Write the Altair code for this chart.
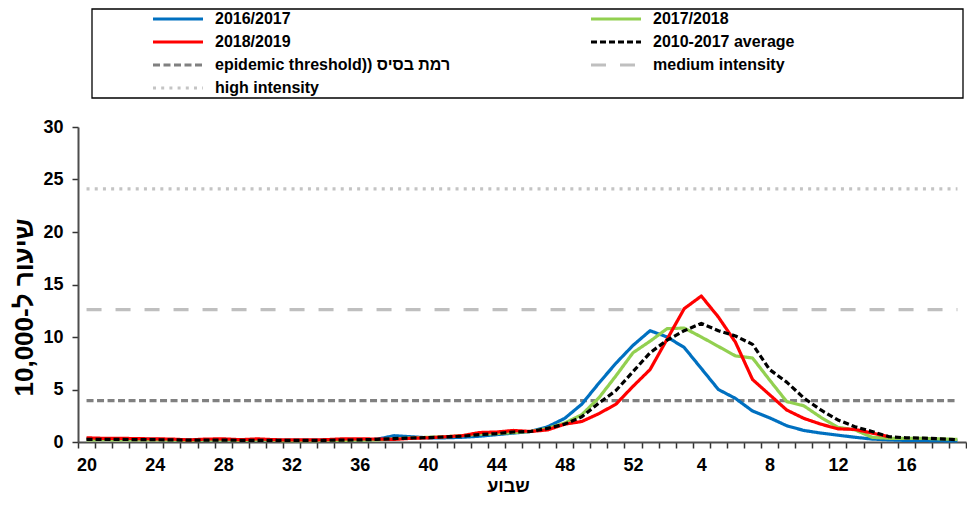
import altair as alt
import pandas as pd

# ---------------- data ----------------
weeks = list(range(20, 53)) + list(range(1, 20))
x_tick_labels = ["20", "24", "28", "32", "36", "40", "44", "48", "52", "4", "8", "12", "16"]

s_2016_2017 = [0.30, 0.30, 0.28, 0.25, 0.25, 0.22, 0.18, 0.20, 0.20, 0.15, 0.18, 0.15, 0.15,
               0.15, 0.15, 0.18, 0.20, 0.25, 0.60, 0.50, 0.40, 0.40, 0.45, 0.55, 0.70, 0.85,
               1.00, 1.45, 2.25, 3.60, 5.60, 7.50, 9.20,
               10.60, 10.00, 9.00, 7.00, 5.00, 4.15, 2.95, 2.30, 1.55, 1.10, 0.85, 0.65,
               0.45, 0.28, 0.20, 0.15, 0.15, 0.12, 0.10]
s_2017_2018 = [0.20, 0.22, 0.20, 0.20, 0.20, 0.18, 0.15, 0.18, 0.18, 0.15, 0.18, 0.15, 0.12,
               0.12, 0.15, 0.15, 0.18, 0.20, 0.30, 0.38, 0.45, 0.50, 0.60, 0.75, 0.80, 0.90,
               1.00, 1.30, 1.80, 2.60, 4.20, 6.30, 8.50,
               9.60, 10.80, 10.85, 10.00, 9.10, 8.20, 8.00, 5.90, 3.85, 3.45, 2.35, 1.40,
               1.15, 0.45, 0.35, 0.35, 0.35, 0.30, 0.25]
s_2018_2019 = [0.40, 0.35, 0.35, 0.32, 0.30, 0.28, 0.20, 0.28, 0.30, 0.22, 0.30, 0.22, 0.20,
               0.20, 0.22, 0.30, 0.30, 0.28, 0.25, 0.35, 0.40, 0.50, 0.60, 0.90, 0.95, 1.10,
               1.00, 1.15, 1.70, 1.95, 2.70, 3.60, 5.30,
               6.90, 9.80, 12.70, 13.90, 11.90, 9.50, 5.95, 4.50, 3.05, 2.25, 1.70, 1.25,
               1.20, 0.85, 0.50, None, None, None, None]
s_average = [0.25, 0.25, 0.25, 0.22, 0.22, 0.20, 0.18, 0.18, 0.18, 0.16, 0.16, 0.15, 0.15,
             0.15, 0.16, 0.18, 0.20, 0.25, 0.32, 0.38, 0.42, 0.48, 0.55, 0.70, 0.80, 0.95,
             1.00, 1.30, 1.70, 2.40, 3.70, 4.90, 6.70,
             8.50, 9.70, 10.60, 11.30, 10.60, 10.10, 9.30, 6.90, 5.70, 4.20, 3.05, 2.10,
             1.45, 1.00, 0.50, 0.40, 0.37, 0.30, 0.22]
epidemic_threshold = [3.95] * len(weeks)
medium_intensity = [12.6] * len(weeks)
high_intensity = [24.1] * len(weeks)

series_names = ["2016/2017", "2017/2018", "2018/2019", "2010-2017 average",
                "epidemic threshold)) רמת בסיס", "medium intensity", "high intensity"]
series_values = [s_2016_2017, s_2017_2018, s_2018_2019, s_average,
                 epidemic_threshold, medium_intensity, high_intensity]

# ---------------- styles ----------------
colors = ["#0070C0", "#92D050", "#FF0000", "#000000", "#808080", "#BFBFBF", "#C4C4C4"]
widths = [3.2, 3.2, 3.2, 2.2, 2.5, 4.5, 3.0]
dashes = [[1, 0], [1, 0], [1, 0], [6, 3], [7, 3.5], [15, 14], [3, 5.2]]

# draw thresholds first (beneath), then seasons
draw_order = [4, 5, 6, 0, 1, 2, 3]
rows = []
for k in draw_order:
    for i, (w, v) in enumerate(zip(weeks, series_values[k])):
        if v is not None:
            rows.append({"series": series_names[k], "idx": i, "week": w, "value": v})
df = pd.DataFrame(rows)

PLOT_W, PLOT_H = 888, 315
n = len(weeks)
band = PLOT_W / n

labels_arr = [str(w) if str(w) in x_tick_labels else "" for w in weeks] + [""]
label_expr = "[" + ",".join("'" + s + "'" for s in labels_arr) + "][round(datum.value + 0.5)]"

FONT = "Liberation Sans"

leg = alt.Legend(
    orient="none", legendX=14, legendY=-118, direction="horizontal",
    columns=2, gridAlign="all", columnPadding=138, rowPadding=7,
    symbolType="stroke", symbolSize=2500, clipHeight=16,
    labelFont=FONT, labelFontSize=16, labelFontWeight="bold", labelColor="black",
    labelOffset=10, labelLimit=600,
    padding=2,
    title=" ", titleOrient="left", titlePadding=57, titleFontSize=16,
)

x_axis = alt.Axis(
    values=[i - 0.5 for i in range(n + 1)], labelExpr=label_expr,
    labelOffset=band / 2, labelFlush=False, labelOverlap=False,
    tickSize=6, labelPadding=8, grid=False,
    labelFontSize=18, title="שבוע", titleFontSize=18, titlePadding=3, titleX=430,
)
y_axis = alt.Axis(
    values=[0, 5, 10, 15, 20, 25, 30], tickSize=6, labelPadding=9, grid=False,
    labelFontSize=18, title="שיעור ל-10,000", titleFontSize=26, titlePadding=5,
    titleY=180,
)

lines = alt.Chart(df).mark_line(strokeCap="butt", strokeJoin="round").encode(
    x=alt.X("idx:Q", scale=alt.Scale(domain=[-0.5, n - 0.5], nice=False, zero=False), axis=x_axis),
    y=alt.Y("value:Q", scale=alt.Scale(domain=[0, 30], nice=False), axis=y_axis),
    color=alt.Color("series:N", scale=alt.Scale(domain=series_names, range=colors), legend=leg),
    strokeDash=alt.StrokeDash("series:N", scale=alt.Scale(domain=series_names, range=dashes), legend=leg),
    strokeWidth=alt.StrokeWidth("series:N", scale=alt.Scale(domain=series_names, range=widths), legend=leg),
)

# frame drawn around the legend block (decoration, pixel placement like a rule)
legend_frame = alt.Chart(pd.DataFrame({"frame": [0]})).mark_rect(
    fill=None, stroke="black", strokeWidth=1.3
).encode(
    x=alt.value(14), x2=alt.value(885), y=alt.value(-118), y2=alt.value(-29)
)

chart = alt.layer(lines, legend_frame).properties(
    width=PLOT_W, height=PLOT_H,
    padding={"left": 70, "top": 119, "right": 1, "bottom": 56},
    autosize=alt.AutoSizeParams(type="none"),
).configure_view(
    strokeWidth=0
).configure_axis(
    labelFont=FONT, labelFontWeight="bold", labelColor="black",
    titleFont=FONT, titleFontWeight="bold", titleColor="black",
    domainColor="#4d4d4d", domainWidth=2, tickColor="#333333", tickWidth=1.5,
)

chart.save("out.html", embed_options={"renderer": "svg", "actions": False})
